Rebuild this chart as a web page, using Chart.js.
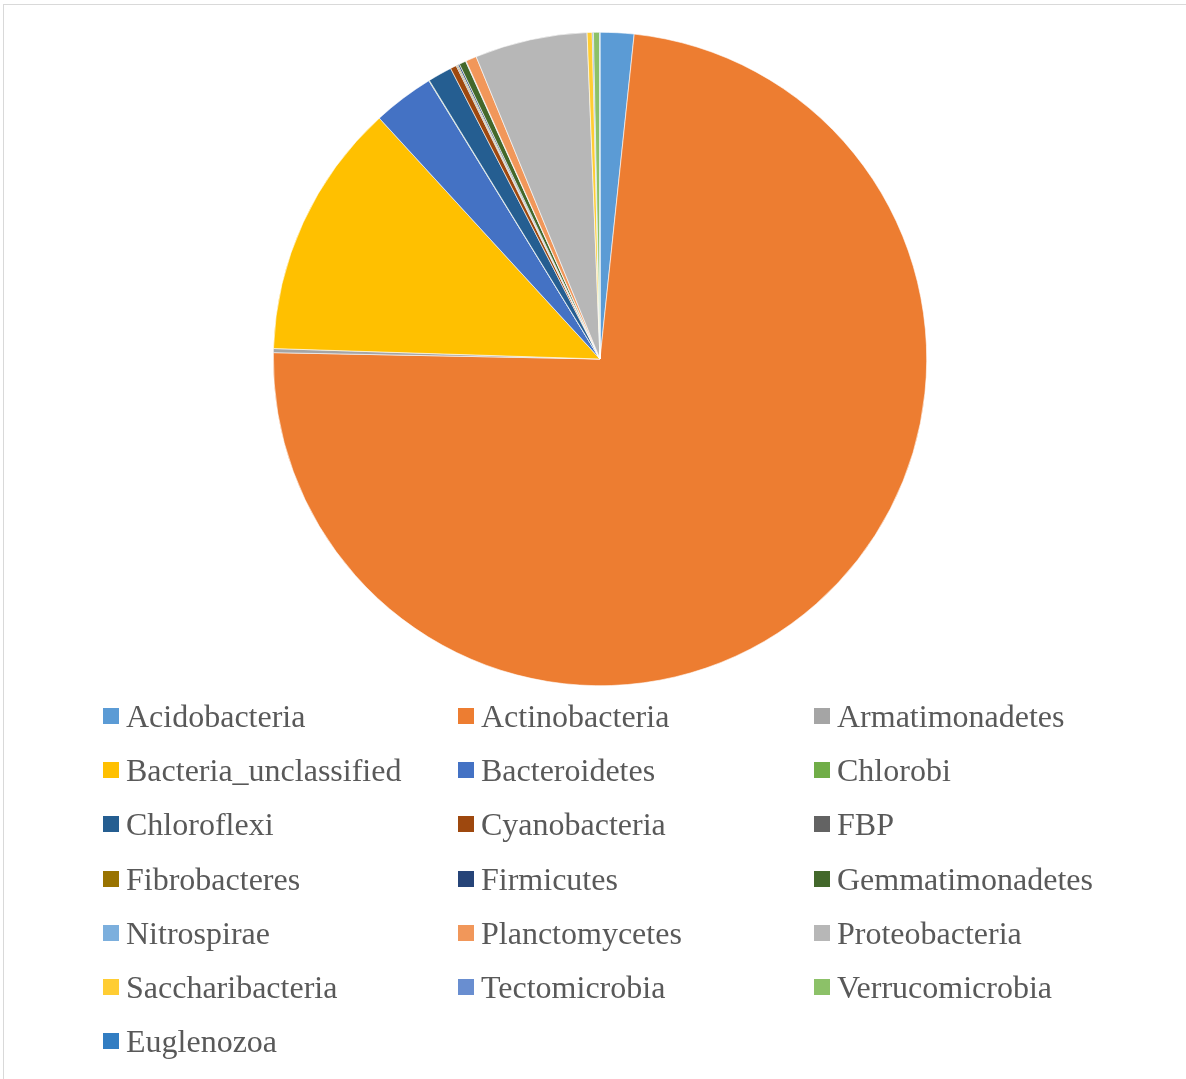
<!DOCTYPE html>
<html>
<head>
<meta charset="utf-8">
<script src="https://cdn.jsdelivr.net/npm/chart.js@4.4.1/dist/chart.umd.min.js"></script>
<style>
  html, body { margin: 0; padding: 0; background: #fff; }
  body { width: 1186px; height: 1079px; position: relative; overflow: hidden; }
  #frame { position: absolute; left: 3px; top: 4px; width: 1200px; height: 1100px; border: 1px solid #d9d9d9; box-sizing: border-box; }
  #pieWrap { position: absolute; left: 273px; top: 32px; width: 654px; height: 654px; }
  #legend { position: absolute; left: 0; top: 0; width: 1186px; height: 1079px; pointer-events: none; }
  .mk { position: absolute; width: 16px; height: 16px; }
  .lt { position: absolute; font-family: "Liberation Serif", "Times New Roman", serif; font-size: 32px; line-height: 54px; color: #595959; white-space: nowrap; }
</style>
</head>
<body>
<div id="frame"></div>
<div id="pieWrap"><canvas id="c"></canvas></div>
<div id="legend"></div>
<script>
const categories = ["Acidobacteria", "Actinobacteria", "Armatimonadetes", "Bacteria_unclassified", "Bacteroidetes", "Chlorobi", "Chloroflexi", "Cyanobacteria", "FBP", "Fibrobacteres", "Firmicutes", "Gemmatimonadetes", "Nitrospirae", "Planctomycetes", "Proteobacteria", "Saccharibacteria", "Tectomicrobia", "Verrucomicrobia", "Euglenozoa"];
const values = [1.67, 73.67, 0.20, 12.69, 3.03, 0.03, 1.19, 0.30, 0.05, 0.05, 0.08, 0.33, 0.03, 0.53, 5.56, 0.25, 0.06, 0.30, 0.02];
const colors = ["#5B9BD5", "#ED7D31", "#A5A5A5", "#FFC000", "#4472C4", "#70AD47", "#255E91", "#9E480E", "#636363", "#997300", "#264478", "#43682B", "#7CAFDD", "#F1975A", "#B7B7B7", "#FFCD33", "#698ED0", "#8CC168", "#327DC2"];

new Chart(document.getElementById('c'), {
  type: 'pie',
  data: {
    labels: categories,
    datasets: [{
      data: values,
      backgroundColor: colors,
      borderColor: '#ffffff',
      borderWidth: 0.6
    }]
  },
  options: {
    responsive: true,
    maintainAspectRatio: false,
    animation: false,
    layout: { padding: 0 },
    plugins: {
      legend: { display: false },
      tooltip: { enabled: false }
    }
  }
});

// Legend (3-column grid, like the original)
const legend = document.getElementById('legend');
const colX = [103, 458, 814];
const row0 = 716, rowStep = 54.2;
categories.forEach((name, i) => {
  const col = i % 3, row = Math.floor(i / 3);
  const cy = row0 + row * rowStep;
  const mk = document.createElement('div');
  mk.className = 'mk';
  mk.style.left = colX[col] + 'px';
  mk.style.top = (cy - 8) + 'px';
  mk.style.background = colors[i];
  legend.appendChild(mk);
  const t = document.createElement('div');
  t.className = 'lt';
  t.style.left = (colX[col] + 23) + 'px';
  t.style.top = (cy - 27) + 'px';
  t.textContent = name;
  legend.appendChild(t);
});
</script>
</body>
</html>
